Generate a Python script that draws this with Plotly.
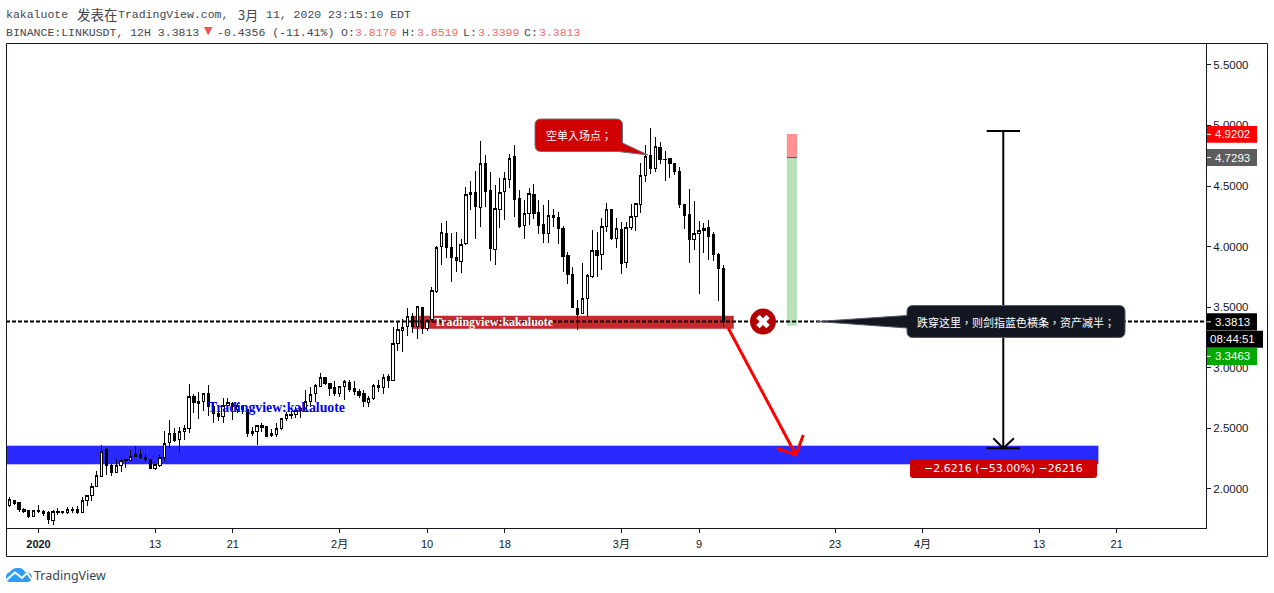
import pandas as pd
import plotly.graph_objects as go

# ---- candle data (12H, BINANCE:LINKUSDT) ----
start_date = "2019-12-29"
opens = [
 1.860,1.904,1.885,1.832,1.824,1.772,1.824,1.816,1.808,1.739,
 1.816,1.808,1.805,1.832,1.827,1.805,1.904,1.945,2.020,2.102,
 2.322,2.196,2.135,2.193,2.237,2.234,2.264,2.284,2.262,2.245,
 2.165,2.193,2.262,2.382,2.460,2.410,2.473,2.498,2.762,2.718,
 2.724,2.784,2.680,2.625,2.597,2.693,2.707,2.657,2.680,2.652,
 2.457,2.473,2.520,2.512,2.454,2.446,2.498,2.581,2.616,2.613,
 2.666,2.638,2.721,2.784,2.844,2.922,2.867,2.834,2.784,2.845,
 2.878,2.831,2.806,2.784,2.712,2.745,2.858,2.839,2.932,2.894,
 3.202,3.307,3.340,3.427,3.340,3.499,3.323,3.395,3.628,3.999,
 4.110,3.994,3.912,3.876,4.022,4.431,4.448,4.324,4.687,4.467,
 3.978,4.307,4.453,4.555,4.747,4.393,4.173,4.275,4.431,4.283,
 4.186,4.110,4.258,4.242,4.151,3.923,3.771,3.491,3.450,3.574,
 3.752,3.964,3.931,4.165,4.308,4.069,4.143,3.870,4.159,4.247,
 4.349,4.586,4.750,4.646,4.819,4.723,4.728,4.687,4.624,4.349,
 4.261,4.060,4.110,4.129,4.159,4.096,3.937,3.8170]
highs = [
 1.932,1.910,1.890,1.844,1.827,1.830,1.868,1.827,1.816,1.827,
 1.841,1.819,1.852,1.849,1.860,1.937,1.948,2.053,2.146,2.361,
 2.336,2.204,2.248,2.248,2.248,2.319,2.355,2.328,2.289,2.248,
 2.206,2.281,2.479,2.570,2.501,2.509,2.528,2.866,2.784,2.798,
 2.795,2.858,2.707,2.638,2.748,2.748,2.721,2.707,2.693,2.652,
 2.515,2.528,2.542,2.520,2.492,2.542,2.583,2.638,2.647,2.680,
 2.680,2.817,2.839,2.867,2.954,2.922,2.872,2.891,2.850,2.900,
 2.900,2.891,2.822,2.817,2.770,2.864,2.900,2.949,2.949,3.334,
 3.381,3.400,3.491,3.450,3.510,3.504,3.400,3.670,4.005,4.192,
 4.214,4.110,4.118,4.060,4.495,4.541,4.624,4.871,4.756,4.618,
 4.508,4.563,4.618,4.764,4.838,4.467,4.385,4.481,4.517,4.385,
 4.343,4.385,4.310,4.288,4.170,3.958,3.834,3.560,3.862,3.772,
 4.137,4.124,4.239,4.357,4.308,4.239,4.206,4.206,4.349,4.357,
 4.687,4.838,4.976,4.902,4.860,4.789,4.734,4.693,4.654,4.349,
 4.476,4.377,4.211,4.198,4.220,4.124,3.950,3.8519]
lows = [
 1.855,1.868,1.813,1.800,1.764,1.769,1.800,1.778,1.712,1.703,
 1.789,1.791,1.791,1.802,1.794,1.805,1.863,1.904,2.020,2.102,
 2.116,2.108,2.135,2.143,2.176,2.231,2.262,2.251,2.220,2.163,
 2.160,2.185,2.234,2.341,2.391,2.300,2.405,2.460,2.630,2.578,
 2.644,2.605,2.547,2.564,2.547,2.638,2.570,2.625,2.619,2.432,
 2.437,2.363,2.473,2.432,2.432,2.432,2.487,2.564,2.581,2.583,
 2.583,2.638,2.680,2.721,2.844,2.861,2.768,2.768,2.757,2.735,
 2.803,2.776,2.748,2.680,2.680,2.735,2.803,2.784,2.836,2.894,
 3.142,3.133,3.262,3.285,3.240,3.279,3.307,3.381,3.615,3.848,
 3.909,3.711,3.793,3.785,4.013,4.302,4.063,4.165,4.330,3.884,
 3.848,4.151,4.220,4.481,4.247,4.151,4.063,4.178,4.225,4.104,
 4.033,4.033,4.165,4.022,3.793,3.692,3.491,3.312,3.441,3.422,
 3.739,3.752,3.807,4.124,4.055,3.990,3.772,3.821,4.137,4.129,
 4.280,4.536,4.597,4.619,4.679,4.544,4.564,4.591,4.316,4.145,
 3.862,3.972,3.609,3.945,3.890,3.884,3.554,3.3399]
closes = [
 1.910,1.877,1.827,1.813,1.769,1.824,1.813,1.794,1.747,1.816,
 1.805,1.811,1.832,1.821,1.805,1.907,1.948,2.022,2.113,2.311,
 2.193,2.132,2.196,2.234,2.240,2.270,2.286,2.259,2.240,2.168,
 2.204,2.259,2.377,2.460,2.396,2.476,2.501,2.765,2.715,2.704,
 2.784,2.680,2.619,2.597,2.693,2.715,2.680,2.693,2.657,2.454,
 2.476,2.520,2.509,2.437,2.440,2.501,2.583,2.616,2.608,2.647,
 2.644,2.724,2.781,2.850,2.922,2.867,2.828,2.784,2.845,2.891,
 2.825,2.803,2.768,2.718,2.748,2.858,2.836,2.922,2.894,3.202,
 3.318,3.334,3.422,3.340,3.504,3.326,3.389,3.642,3.994,4.118,
 3.994,3.912,3.884,4.019,4.431,4.448,4.330,4.687,4.453,3.983,
 4.316,4.448,4.563,4.728,4.390,4.170,4.275,4.440,4.275,4.178,
 4.110,4.258,4.239,4.148,3.917,3.771,3.496,3.436,3.574,3.760,
 3.964,3.926,4.165,4.308,4.063,4.151,3.862,4.159,4.247,4.357,
 4.586,4.742,4.646,4.825,4.715,4.717,4.682,4.619,4.349,4.256,
 4.060,4.110,4.134,4.151,4.082,3.937,3.821,3.3813]

# ---- axes ----
x_range = ["2019-12-28 15:42", "2020-04-30 04:34"]
y_range = [1.678, 5.672]
x_tick_dates = ["2020-01-01","2020-01-13","2020-01-21","2020-02-01","2020-02-10","2020-02-18",
                "2020-03-01","2020-03-09","2020-03-23","2020-04-01","2020-04-13","2020-04-21"]
x_tick_labels = ["<b>2020</b>","13","21","2月","10","18","3月","9","23","4月","13","21"]
y_ticks = [2.0, 2.5, 3.0, 3.5, 4.0, 4.5, 5.0, 5.5]

# ---- drawn objects, in chart values ----
last_price = 3.3813
blue_zone = {"x_end": "2020-04-19 02:00", "top": 2.355, "bottom": 2.206}
red_zone = {"x0": "2020-02-08 11:00", "x1": "2020-03-12 13:00", "top": 3.427, "bottom": 3.324}
pos_x = ["2020-03-18 01:00", "2020-03-19 02:00"]
pos_stop, pos_entry, pos_target = 4.929, 4.735, 3.3463
arrow_x = ["2020-03-12 00:00","2020-03-18 23:30",None,"2020-03-17 00:00","2020-03-18 23:30","2020-03-19 17:30"]
arrow_y = [3.328, 2.281, None, 2.336, 2.281, 2.446]
ruler_x = ["2020-04-07 14:40","2020-04-11 01:00",None,"2020-04-09 07:40","2020-04-09 07:40",None,
           "2020-04-07 14:40","2020-04-11 01:00",None,"2020-04-08 07:00","2020-04-09 07:40","2020-04-10 10:00"]
ruler_y = [4.954,4.954,None,4.954,2.336,None,2.336,2.336,None,2.418,2.336,2.418]
stop_mark_x = ["2020-03-15 14:00"]

INK = "#131722"
CJK = "Noto Sans CJK SC"
CJK_NOTE = "Noto Sans CJK TC"
MONO = "Liberation Mono"

dates = pd.date_range(start_date, periods=len(opens), freq="12h")

fig = go.Figure()
fig.add_trace(go.Candlestick(
    x=dates, open=opens, high=highs, low=lows, close=closes,
    whiskerwidth=0, hoverinfo="skip", showlegend=False,
    increasing=dict(line=dict(color="#000000", width=1), fillcolor="#ffffff"),
    decreasing=dict(line=dict(color="#000000", width=1), fillcolor="#000000")))
fig.add_trace(go.Scatter(x=x_range, y=[last_price, last_price], mode="lines", hoverinfo="skip",
    showlegend=False, line=dict(color="#000000", width=2, dash="4px,2px")))
fig.add_trace(go.Scatter(x=arrow_x, y=arrow_y, mode="lines", hoverinfo="skip", showlegend=False,
    line=dict(color="#ff0000", width=3)))
fig.add_trace(go.Scatter(x=ruler_x, y=ruler_y, mode="lines", hoverinfo="skip", showlegend=False,
    line=dict(color="#000000", width=2)))
fig.add_trace(go.Scatter(x=stop_mark_x, y=[last_price], mode="markers", hoverinfo="skip", showlegend=False,
    marker=dict(symbol="circle", size=26, color="#b20000", line=dict(width=0))))
fig.add_trace(go.Scatter(x=stop_mark_x, y=[last_price], mode="markers", hoverinfo="skip", showlegend=False,
    marker=dict(symbol="x", size=12, color="#ffffff", line=dict(width=0))))

# pixel helpers for page furniture
L, R, T, B = 6.0, 1206.0, 44.0, 528.0
px = lambda x: (x - L) / (R - L)
py = lambda y: (B - y) / (B - T)

def pth(points):
    """Build an SVG path in paper fractions from (cmd, x, y, ...) tuples."""
    out = []
    for p in points:
        cmd, vals = p[0], p[1:]
        coords = []
        for i in range(0, len(vals), 2):
            coords += [f"{px(vals[i]):.6f}", f"{py(vals[i+1]):.6f}"]
        out.append(cmd + " " + " ".join(coords))
    return " ".join(out) + " Z"

shapes = []
# zones under the candles
shapes.append(dict(type="rect", layer="below", xref="x", yref="y", x0=x_range[0], x1=blue_zone["x_end"],
                   y0=blue_zone["bottom"], y1=blue_zone["top"], fillcolor="#2a2aff",
                   line=dict(color="rgba(42,42,255,0.55)", width=1)))
shapes.append(dict(type="rect", layer="below", xref="x", yref="y", x0=red_zone["x0"], x1=red_zone["x1"],
                   y0=red_zone["bottom"], y1=red_zone["top"], fillcolor="#c62a2f",
                   line=dict(color="rgba(198,42,47,0.55)", width=1)))
shapes.append(dict(type="rect", layer="below", xref="x", yref="y", x0=pos_x[0], x1=pos_x[1],
                   y0=pos_entry, y1=pos_stop, fillcolor="#ff9193", line=dict(width=0)))
shapes.append(dict(type="rect", layer="below", xref="x", yref="y", x0=pos_x[0], x1=pos_x[1],
                   y0=pos_target, y1=pos_entry, fillcolor="#b7e1b9", line=dict(width=0)))
shapes.append(dict(type="line", layer="below", xref="x", yref="y", x0=pos_x[0], x1=pos_x[1],
                   y0=pos_entry, y1=pos_entry, line=dict(color="#555555", width=1)))

# frame
shapes.append(dict(type="rect", layer="above", xref="paper", yref="paper",
                   x0=px(6.5), x1=px(1267.5), y0=py(556.5), y1=py(43.5), line=dict(color=INK, width=1)))

# red callout
shapes.append(dict(type="path", layer="above", xref="paper", yref="paper",
    path=pth([("M",541,119),("L",616,119),("Q",622.5,119,622.5,125),("L",622.5,143),("L",648,155),
              ("L",618,151.5),("L",541,151.5),("Q",535,151.5,535,145),("L",535,125),("Q",535,119,541,119)]),
    fillcolor="#d00000", line=dict(color="#6b7480", width=1)))
# black callout
shapes.append(dict(type="path", layer="above", xref="paper", yref="paper",
    path=pth([("M",913,305.5),("L",1119,305.5),("Q",1125,305.5,1125,311.5),("L",1125,331.5),
              ("Q",1125,337.5,1119,337.5),("L",913,337.5),("Q",907,337.5,907,331.5),("L",907,328),
              ("L",817,321.5),("L",907,315.5),("L",907,311.5),("Q",907,305.5,913,305.5)]),
    fillcolor=INK, line=dict(color="#565b68", width=1)))
# measure label
shapes.append(dict(type="path", layer="above", xref="paper", yref="paper",
    path=pth([("M",913,459),("L",1094,459),("Q",1097,459,1097,462),("L",1097,475),("Q",1097,478,1094,478),
              ("L",913,478),("Q",910,478,910,475),("L",910,462),("Q",910,459,913,459)]),
    fillcolor="#cc0000", line=dict(width=0)))

# price-scale labels
price_tags = [(126, 142.7, 1257, "#ff0000", "4.9202"),
              (149, 166, 1257, "#5d5d5d", "4.7293"),
              (313.3, 330.4, 1257, "#000000", "3.3813"),
              (330.7, 347.7, 1263, "#000000", "08:44:51"),
              (347.7, 365, 1257, "#00a800", "3.3463")]
for y0, y1, xr, col, _ in price_tags:
    shapes.append(dict(type="rect", layer="above", xref="paper", yref="paper",
                       x0=px(1207), x1=px(xr), y0=py(y1), y1=py(y0), fillcolor=col, line=dict(width=0)))
    if _ != "08:44:51":
        shapes.append(dict(type="line", layer="above", xref="paper", yref="paper",
                           x0=px(1207), x1=px(1211), y0=py((y0+y1)/2), y1=py((y0+y1)/2),
                           line=dict(color="#ffffff", width=1)))

# TradingView logo
shapes.append(dict(type="path", layer="above", xref="paper", yref="paper",
    path=pth([("M",6,577),("Q",6,573,10,572),("Q",13,567.5,18,568),("Q",23,567.5,25,572),("Q",31,572,32,577),
              ("Q",32,582,27,582),("L",10,582),("Q",6,582,6,577)]),
    fillcolor="#2e9cf6", line=dict(width=0)))
shapes.append(dict(type="path", layer="above", xref="paper", yref="paper",
    path="M %f %f L %f %f L %f %f L %f %f L %f %f" % (px(6.5),py(580),px(15),py(572.5),px(22),py(578),px(27),py(573),px(32),py(580)),
    line=dict(color="#ffffff", width=2)))

annotations = []
def label(x, y, s, size, color, family, anchor="left"):
    annotations.append(dict(xref="paper", yref="paper", x=px(x), y=py(y), text=s, showarrow=False,
                            xanchor=anchor, yanchor="middle", borderpad=0, borderwidth=0,
                            font=dict(size=size, color=color, family=family)))

HDR = "#434651"
RED = "#ef6c6c"
label(6, 14, "kakaluote", 11.5, HDR, MONO)
label(76.5, 14, "发表在", 13.5, HDR, CJK)
label(118, 14, "TradingView.com,", 11.5, HDR, MONO)
label(238, 14, "3月", 13, HDR, CJK)
label(266, 14, "11, 2020 23:15:10 EDT", 11.5, HDR, MONO)
label(6, 32, "BINANCE:LINKUSDT, 12H 3.3813", 11.5, HDR, MONO)
label(204, 31, "▼", 11, "#ef5350", "DejaVu Sans")
label(217, 32, "-0.4356 (-11.41%)", 11.5, HDR, MONO)
for xk, xv, k, v in [(341, 355, "O:", "3.8170"), (402, 417, "H:", "3.8519"),
                     (463, 478, "L:", "3.3399"), (524, 539, "C:", "3.3813")]:
    label(xk, 32, k, 11.5, HDR, MONO)
    label(xv, 32, v, 11.5, RED, MONO)

label(208, 407.5, "<b>Tradingview:kakaluote</b>", 13.8, "#0000ff", "Liberation Serif")
label(434, 322, "<b>Tradingview:kakaluote</b>", 12, "#ffffff", "Liberation Serif")
label(578.5, 135, "空单入场点；", 11, "#ffffff", CJK_NOTE, "center")
label(1016, 321.5, "跌穿这里，则剑指蓝色横条，资产减半；", 11, "#ffffff", CJK_NOTE, "center")
label(1003.5, 468.5, "−2.6216 (−53.00%) −26216", 11, "#ffffff", "DejaVu Sans", "center")
for y0, y1, xr, col, s in price_tags:
    label(1215 if s != "08:44:51" else 1210, (y0+y1)/2, s, 11.5, "#ffffff", "Liberation Sans")
label(34, 575, "TradingView", 12.5, "#3a4452", "Noto Sans")

fig.update_layout(
    width=1274, height=593, autosize=False,
    margin=dict(l=L, r=1274-R, t=T, b=593-B, pad=0),
    paper_bgcolor="#ffffff", plot_bgcolor="#ffffff",
    showlegend=False, boxgap=0.3,
    shapes=shapes, annotations=annotations,
    xaxis=dict(type="date", range=x_range, rangeslider=dict(visible=False),
               tickmode="array", tickvals=x_tick_dates, ticktext=x_tick_labels,
               showgrid=False, zeroline=False, showline=True, linecolor=INK, linewidth=1,
               ticks="outside", ticklen=4, tickcolor=INK, tickwidth=1, ticklabelstandoff=2,
               tickfont=dict(size=11, color=INK, family=f"Liberation Sans, {CJK}")),
    yaxis=dict(range=y_range, side="right", tickmode="array", tickvals=y_ticks, tickformat=".4f",
               showgrid=False, zeroline=False, showline=True, linecolor=INK, linewidth=1,
               ticks="outside", ticklen=4, tickcolor=INK, tickwidth=1,
               tickfont=dict(size=11.5, color=INK, family="Liberation Sans")),
)

post = ("document.body.style.margin='0';document.body.style.overflow='hidden';"
        "document.querySelectorAll('.boxlayer path').forEach(function(p){p.style.shapeRendering='crispEdges';});")
fig.write_html("out.html", config={"displayModeBar": False}, post_script=post)
